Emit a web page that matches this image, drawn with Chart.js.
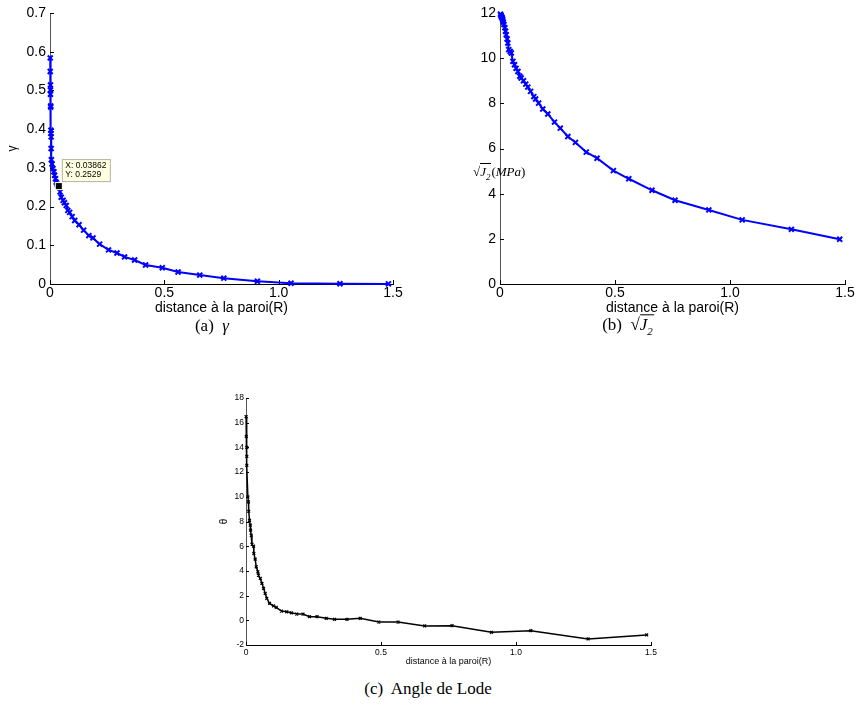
<!DOCTYPE html>
<html lang="fr">
<head>
<meta charset="UTF-8">
<title>gamma, racine de J2, angle de Lode</title>
<script src="https://cdn.jsdelivr.net/npm/chart.js"></script>
<style>
  body { margin: 0; background: #fff; }
  #page { position: relative; width: 856px; height: 712px; overflow: hidden; background: #fff; }
  canvas { position: absolute; }
  .cap { position: absolute; font-family: "Liberation Serif", "DejaVu Serif", serif; font-size: 17px; color: #000; white-space: nowrap; transform: translate(-50%, -50%); }
  .rad { border-top: 1px solid #000; font-style: italic; padding-right: 1px; }
  .ylab { position: absolute; font-family: "Liberation Serif", serif; font-size: 13px; color: #000; white-space: nowrap; }
</style>
</head>
<body>
<div id="page">
  <canvas id="cGamma" width="420" height="325" style="left:0px;top:0px"></canvas>
  <canvas id="cJ2" width="426" height="325" style="left:430px;top:0px"></canvas>
  <canvas id="cLode" width="480" height="290" style="left:190px;top:380px"></canvas>

  <div class="ylab" style="left:473px;top:164px">√<span class="rad">J<sub style="font-size:9px">2</sub></span>(<i>MPa</i>)</div>

  <div class="cap" style="left:212px;top:326px">(a)&nbsp; <i>γ</i></div>
  <div class="cap" style="left:628px;top:326px">(b)&nbsp; √<span class="rad">J<sub style="font-size:11px">2</sub></span></div>
  <div class="cap" style="left:428px;top:689px">(c)&nbsp; Angle de Lode</div>
</div>

<script>
    // valeurs
    const xTicks = [0, 0.5, 1, 1.5];

    const gammaX = [0.001, 0.001, 0.002, 0.002, 0.002, 0.003, 0.003, 0.004, 0.004, 0.005,
                    0.005, 0.006, 0.009, 0.013, 0.017, 0.020, 0.024, 0.027, 0.031, 0.0386,
                    0.044, 0.049, 0.057, 0.063, 0.071, 0.078, 0.086, 0.097, 0.108, 0.127,
                    0.147, 0.170, 0.188, 0.217, 0.256, 0.293, 0.326, 0.370, 0.418, 0.491,
                    0.560, 0.655, 0.760, 0.907, 1.054, 1.268, 1.480];
    const gammaY = [0.584, 0.549, 0.514, 0.501, 0.490, 0.460, 0.457, 0.397, 0.389, 0.380,
                    0.350, 0.321, 0.310, 0.298, 0.290, 0.281, 0.272, 0.263, 0.258, 0.2529,
                    0.238, 0.224, 0.216, 0.210, 0.203, 0.190, 0.185, 0.174, 0.164, 0.153,
                    0.139, 0.125, 0.119, 0.103, 0.088, 0.080, 0.070, 0.062, 0.049, 0.042,
                    0.031, 0.023, 0.015, 0.007, 0.002, 0.0005, 0.0003];
    const gammaTicks = [0, 0.1, 0.2, 0.3, 0.4, 0.5, 0.6, 0.7];

    const j2X = [0.002, 0.004, 0.006, 0.008, 0.010, 0.012, 0.014, 0.017, 0.021, 0.024,
                 0.027, 0.031, 0.034, 0.038, 0.044, 0.049, 0.056, 0.063, 0.070, 0.078,
                 0.086, 0.092, 0.102, 0.112, 0.121, 0.133, 0.147, 0.155, 0.168, 0.186,
                 0.208, 0.237, 0.262, 0.295, 0.328, 0.375, 0.422, 0.493, 0.560, 0.661,
                 0.761, 0.908, 1.053, 1.267, 1.477];
    const j2Y = [11.95, 11.9, 11.85, 11.8, 11.78, 11.7, 11.6, 11.49, 11.35, 11.19,
                 11.04, 10.85, 10.67, 10.38, 10.3, 10.23, 9.86, 9.71, 9.55, 9.41,
                 9.2, 9.12, 9.0, 8.85, 8.72, 8.53, 8.3, 8.19, 8.01, 7.75,
                 7.53, 7.17, 6.90, 6.53, 6.27, 5.84, 5.57, 5.02, 4.66, 4.15,
                 3.71, 3.28, 2.84, 2.42, 1.98];
    const j2Ticks = [0, 2, 4, 6, 8, 10, 12];

    const lodeX = [0.0003, 0.001, 0.003, 0.003, 0.003, 0.007, 0.009, 0.010, 0.013, 0.016,
                   0.017, 0.019, 0.022, 0.028, 0.029, 0.034, 0.038, 0.044, 0.046, 0.053,
                   0.059, 0.065, 0.071, 0.077, 0.087, 0.102, 0.112, 0.131, 0.151, 0.168,
                   0.188, 0.211, 0.235, 0.263, 0.297, 0.328, 0.374, 0.423, 0.492, 0.563,
                   0.662, 0.763, 0.909, 1.055, 1.267, 1.484];
    const lodeY = [16.5, 14.9, 14.0, 13.28, 12.55, 9.99, 9.58, 8.83, 8.1, 7.7,
                   7.3, 6.9, 6.17, 6.0, 5.41, 4.95, 4.33, 3.93, 3.66, 3.39,
                   2.99, 2.59, 2.18, 1.78, 1.37, 1.16, 1.05, 0.75, 0.69, 0.61,
                   0.51, 0.51, 0.29, 0.29, 0.16, 0.08, 0.08, 0.16, -0.14, -0.14,
                   -0.46, -0.44, -0.97, -0.84, -1.51, -1.19];
    const lodeTicks = [-2, 0, 2, 4, 6, 8, 10, 12, 14, 16, 18];

    // point marqué par le curseur (datatip)
    const tipX = 0.03862;
    const tipY = 0.2529;

    const SANS = '"Liberation Sans", Arial, Helvetica, sans-serif';
    const xTitle = 'distance à la paroi(R)';

    // petites graduations tournées vers l'intérieur (style matlab)
    const inwardTicks = {
        id: 'inwardTicks',
        beforeDatasetsDraw(chart, args, opts) {
            const { ctx, chartArea } = chart;
            const xs = chart.scales.x, ys = chart.scales.y;
            ctx.save();
            ctx.strokeStyle = '#000';
            ctx.lineWidth = 1;
            ctx.beginPath();
            xs.ticks.forEach(t => {
                const px = Math.round(xs.getPixelForValue(t.value)) + 0.5;
                ctx.moveTo(px, chartArea.bottom);
                ctx.lineTo(px, chartArea.bottom - opts.len);
            });
            ys.ticks.forEach(t => {
                const py = Math.round(ys.getPixelForValue(t.value)) + 0.5;
                ctx.moveTo(chartArea.left, py);
                ctx.lineTo(chartArea.left + opts.len, py);
            });
            ctx.stroke();
            ctx.restore();
        }
    };

    const dataTip = {
        id: 'dataTip',
        afterDatasetsDraw(chart) {
            const { ctx } = chart;
            const px = chart.scales.x.getPixelForValue(tipX);
            const py = chart.scales.y.getPixelForValue(tipY);
            ctx.save();
            ctx.fillStyle = '#ffffe1';
            ctx.strokeStyle = '#b4b4a0';
            ctx.lineWidth = 1;
            ctx.fillRect(px + 3, py - 27, 49, 23);
            ctx.strokeRect(px + 3.5, py - 26.5, 48, 22);
            ctx.fillStyle = '#000';
            ctx.font = '8.5px ' + SANS;
            ctx.textBaseline = 'middle';
            ctx.fillText('X: ' + tipX, px + 6.5, py - 20.5);
            ctx.fillText('Y: ' + tipY, px + 6.5, py - 11.5);
            ctx.fillStyle = '#ffffe1';
            ctx.fillRect(px - 4, py - 4, 8, 8);
            ctx.fillStyle = '#000';
            ctx.fillRect(px - 3, py - 3, 6, 6);
            ctx.restore();
        }
    };

    function toPoints(xs, ys) {
        return xs.map((x, i) => ({ x: x, y: ys[i] }));
    }

    function fixedTicks(values) {
        return scale => { scale.ticks = values.map(v => ({ value: v })); };
    }

    function makeChart(id, cfg) {
        const ctx = document.getElementById(id).getContext('2d');
        return new Chart(ctx, {
            type: 'scatter',
            data: {
                datasets: [{
                    data: toPoints(cfg.xs, cfg.ys),
                    showLine: true,
                    borderColor: cfg.color,
                    backgroundColor: cfg.color,
                    borderWidth: cfg.lineWidth,
                    pointStyle: 'crossRot',
                    pointRadius: cfg.markSize,
                    pointBorderWidth: cfg.markWidth,
                    pointBorderColor: cfg.color,
                    tension: 0,
                    clip: false
                }]
            },
            options: {
                responsive: false,
                animation: false,
                devicePixelRatio: 1,
                layout: { padding: cfg.padding },
                plugins: {
                    legend: { display: false },
                    tooltip: { enabled: false },
                    inwardTicks: { len: cfg.tickLen }
                },
                scales: {
                    x: {
                        type: 'linear',
                        min: 0,
                        max: 1.5,
                        afterBuildTicks: fixedTicks(xTicks),
                        afterFit: s => { s.height = cfg.xHeight; },
                        grid: { display: false, drawTicks: false },
                        border: { display: true, color: '#000', width: 1 },
                        ticks: { color: '#000', font: { family: SANS, size: cfg.tickFont }, padding: cfg.xTickPad, maxRotation: 0, autoSkip: false },
                        title: { display: true, text: xTitle, color: '#000', font: { family: SANS, size: cfg.titleFont }, padding: { top: 0, bottom: cfg.xTitlePad } }
                    },
                    y: {
                        type: 'linear',
                        min: cfg.yTicks[0],
                        max: cfg.yTicks[cfg.yTicks.length - 1],
                        afterBuildTicks: fixedTicks(cfg.yTicks),
                        afterFit: s => { s.width = cfg.yWidth; },
                        grid: { display: false, drawTicks: false },
                        border: { display: true, color: '#555', width: 1 },
                        ticks: { color: '#000', font: { family: SANS, size: cfg.tickFont }, padding: cfg.yTickPad, autoSkip: false },
                        title: { display: cfg.yTitle !== '', text: cfg.yTitle, color: '#000', font: { family: SANS, size: cfg.yTitleFont }, padding: { top: cfg.yTitlePad, bottom: 0 } }
                    }
                }
            },
            plugins: cfg.extra ? [inwardTicks, cfg.extra] : [inwardTicks]
        });
    }

    makeChart('cGamma', {
        xs: gammaX, ys: gammaY, yTicks: gammaTicks,
        color: '#0000ff', lineWidth: 2, markSize: 3.5, markWidth: 2,
        padding: { left: 0, top: 13, right: 27, bottom: 0 },
        xHeight: 41, yWidth: 50, tickLen: 4,
        tickFont: 14, titleFont: 14, xTickPad: 1, yTickPad: 4, xTitlePad: 8,
        yTitle: 'γ', yTitleFont: 12, yTitlePad: 5,
        extra: dataTip
    });

    makeChart('cJ2', {
        xs: j2X, ys: j2Y, yTicks: j2Ticks,
        color: '#0000ff', lineWidth: 2, markSize: 3.5, markWidth: 2,
        padding: { left: 0, top: 13, right: 11, bottom: 0 },
        xHeight: 41, yWidth: 70, tickLen: 4,
        tickFont: 14, titleFont: 14, xTickPad: 1, yTickPad: 4, xTitlePad: 8,
        yTitle: '', yTitleFont: 12, yTitlePad: 0
    });

    makeChart('cLode', {
        xs: lodeX, ys: lodeY, yTicks: lodeTicks,
        color: '#000000', lineWidth: 1.5, markSize: 2, markWidth: 1.3,
        padding: { left: 0, top: 18, right: 19, bottom: 0 },
        xHeight: 25, yWidth: 56, tickLen: 3,
        tickFont: 8.5, titleFont: 9, xTickPad: 3, yTickPad: 2, xTitlePad: 3,
        yTitle: 'θ', yTitleFont: 10, yTitlePad: 28
    });
</script>
</body>
</html>
